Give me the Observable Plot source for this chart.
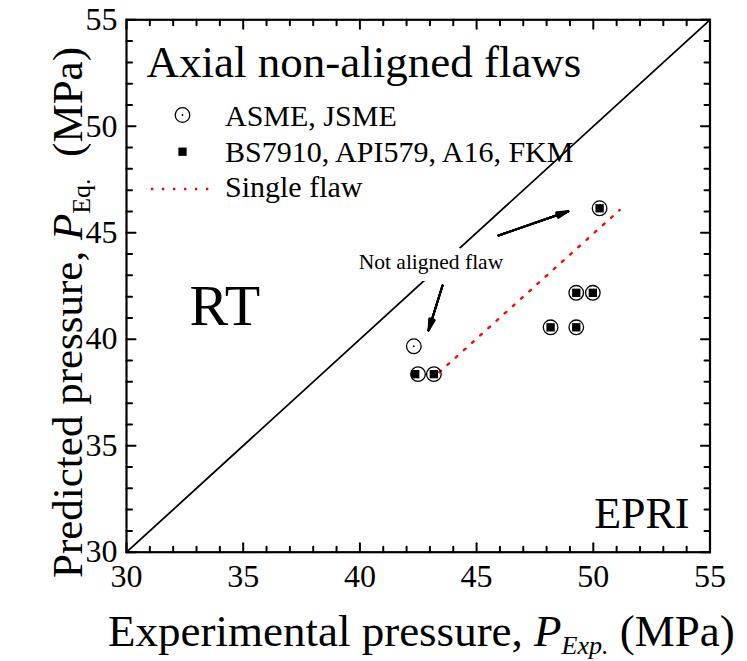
<!DOCTYPE html>
<html>
<head>
<meta charset="utf-8">
<script src="https://cdn.jsdelivr.net/npm/d3@7"></script>
<script src="https://cdn.jsdelivr.net/npm/@observablehq/plot@0.6"></script>
<style>
  html, body { margin: 0; padding: 0; background: #fff; }
</style>
</head>
<body>
<div id="chart"></div>
<script>
// ---- Data ----
// ASME, JSME (open circles)
const asmeX = [42.31, 42.49, 43.17, 48.17, 49.27, 49.27, 49.98, 50.27];
const asmeY = [39.67, 38.36, 38.36, 40.56, 40.56, 42.18, 42.18, 46.15];
// BS7910, API579, A16, FKM (filled squares)
const bsX = [42.37, 43.17, 48.17, 49.27, 49.27, 49.98, 50.27];
const bsY = [38.36, 38.36, 40.56, 40.56, 42.18, 42.18, 46.15];
// Single flaw (red dotted line)
const singleX = [43.4, 51.13];
const singleY = [38.45, 46.07];
// 1:1 line
const diagonal = [30, 55];
// ticks
const majorTicks = [30, 35, 40, 45, 50, 55];
const minorTicks = [31, 32, 33, 34, 36, 37, 38, 39, 41, 42, 43, 44, 46, 47, 48, 49, 51, 52, 53, 54];
// annotation: "Not aligned flaw" with arrows
const noteText = ["Not aligned flaw"];
const noteX = [46.14];
const noteY = [43.32];
const arrowX1 = [45.94, 43.54];
const arrowY1 = [44.87, 42.52];
const arrowX2 = [48.93, 42.94];
const arrowY2 = [46.01, 40.41];
// legend
const legendLabels = ["ASME, JSME", "BS7910, API579, A16, FKM", "Single flaw"];

const asme = asmeX.map((x, i) => ({x, y: asmeY[i]}));
const bs = bsX.map((x, i) => ({x, y: bsY[i]}));
const single = singleX.map((x, i) => ({x, y: singleY[i]}));
const arrows = arrowX1.map((x1, i) => ({x1, y1: arrowY1[i], x2: arrowX2[i], y2: arrowY2[i]}));
const notes = noteText.map((t, i) => ({t, x: noteX[i], y: noteY[i]}));

const font = "'Liberation Serif', 'Times New Roman', Times, serif";

// inward tick shapes for Plot.vector
const up = {draw(c, l) { c.moveTo(0, 0); c.lineTo(0, -l); }};
const down = {draw(c, l) { c.moveTo(0, 0); c.lineTo(0, l); }};
const right = {draw(c, l) { c.moveTo(0, 0); c.lineTo(l, 0); }};
const left = {draw(c, l) { c.moveTo(0, 0); c.lineTo(-l, 0); }};
const [xMin, xMax] = [majorTicks[0], majorTicks[majorTicks.length - 1]];
const tickMarks = [];
for (const [vals, len] of [[majorTicks, 9], [minorTicks, 5.5]]) {
  const common = {length: len, stroke: "#000", strokeWidth: 2, anchor: "start"};
  tickMarks.push(Plot.vector(vals, {x: d => d, y: () => xMin, shape: up, ...common}));
  tickMarks.push(Plot.vector(vals, {x: d => d, y: () => xMax, shape: down, ...common}));
  tickMarks.push(Plot.vector(vals, {y: d => d, x: () => xMin, shape: right, ...common}));
  tickMarks.push(Plot.vector(vals, {y: d => d, x: () => xMax, shape: left, ...common}));
}

const headAngles = [0, 7, 14, 21, 28];

const plot = Plot.plot({
  width: 747,
  height: 661,
  marginLeft: 126,
  marginRight: 37.5,
  marginTop: 19.3,
  marginBottom: 109.3,
  style: {fontFamily: font, background: "#fff", color: "#000"},
  x: {domain: [30, 55], label: null},
  y: {domain: [30, 55], label: null},
  marks: [
    Plot.line(diagonal, {x: d => d, y: d => d, stroke: "#000", strokeWidth: 1.8}),
    Plot.line(single, {x: "x", y: "y", stroke: "#ff0000", strokeWidth: 2.3, strokeDasharray: "2.3,8.7"}),
    Plot.dot(asme, {x: "x", y: "y", r: 7.3, stroke: "#000", strokeWidth: 1.3, fill: "none"}),
    Plot.dot(asme, {x: "x", y: "y", r: 0.9, fill: "#000"}),
    Plot.dot(bs, {x: "x", y: "y", symbol: "square", r: 4.7, fill: "#000"}),
    Plot.text(notes, {x: "x", y: "y", text: "t", textAnchor: "end", lineAnchor: "bottom", fontSize: 21.5, fill: "#000", stroke: "#fff", strokeWidth: 14}),
    ...headAngles.map(a => Plot.arrow(arrows, {x1: "x1", y1: "y1", x2: "x2", y2: "y2", stroke: "#000", strokeWidth: 2, headLength: 9, headAngle: a})),
    Plot.text(["Axial non-aligned flaws"], {frameAnchor: "top-left", textAnchor: "start", lineAnchor: "bottom", dx: 20, dy: 57, fontSize: 45, fill: "#000"}),
    Plot.text(["RT"], {frameAnchor: "top-left", textAnchor: "start", lineAnchor: "bottom", dx: 63, dy: 304.7, fontSize: 58, fill: "#000"}),
    Plot.text(["EPRI"], {frameAnchor: "bottom-right", textAnchor: "end", lineAnchor: "bottom", dx: -20.5, dy: -24.7, fontSize: 44, fill: "#000"}),
    ...tickMarks,
    Plot.axisX({anchor: "bottom", ticks: majorTicks, tickSize: 0, tickPadding: 12, fontSize: 32, label: null}),
    Plot.axisY({anchor: "left", ticks: majorTicks, tickSize: 0, tickPadding: 9, fontSize: 32, label: null}),
    Plot.frame({stroke: "#000", strokeWidth: 2.2})
  ]
});

document.getElementById("chart").appendChild(plot);

// ---- Legend and axis titles (text with italic / subscript parts) ----
const svg = d3.select(plot);
const lg = svg.append("g").attr("font-family", font).attr("font-size", 30).attr("fill", "#000").attr("text-anchor", "start");
lg.append("circle").attr("cx", 182.5).attr("cy", 115).attr("r", 7.3).attr("fill", "none").attr("stroke", "#000").attr("stroke-width", 1.3);
lg.append("circle").attr("cx", 182.5).attr("cy", 115).attr("r", 0.9).attr("fill", "#000");
lg.append("rect").attr("x", 178.35).attr("y", 147.55).attr("width", 8.3).attr("height", 8.3).attr("fill", "#000");
lg.append("line").attr("x1", 151).attr("x2", 209).attr("y1", 189).attr("y2", 189)
  .attr("stroke", "#ff0000").attr("stroke-width", 2.3).attr("stroke-dasharray", "2.3,8.7");
const legendBaselines = [126, 161.7, 197];
legendLabels.forEach((t, i) => lg.append("text").attr("x", 225).attr("y", legendBaselines[i]).text(t));

const xt = svg.append("text").attr("x", 108).attr("y", 646).attr("text-anchor", "start").attr("font-family", font).attr("font-size", 45).attr("fill", "#000");
xt.append("tspan").text("Experimental pressure, ");
xt.append("tspan").attr("font-style", "italic").text("P");
xt.append("tspan").attr("font-style", "italic").attr("font-size", 26).attr("dy", 8).text("Exp.");
xt.append("tspan").attr("dy", -8).text(" (MPa)");

const yt = svg.append("text").attr("transform", "translate(82,578) rotate(-90)").attr("text-anchor", "start").attr("font-family", font).attr("font-size", 43).attr("fill", "#000");
yt.append("tspan").text("Predicted pressure, ");
yt.append("tspan").attr("font-style", "italic").text("P");
yt.append("tspan").attr("font-size", 26).attr("dy", 8).text("Eq.");
yt.append("tspan").attr("dy", -8).text("\u00a0 (MPa)");
</script>
</body>
</html>
